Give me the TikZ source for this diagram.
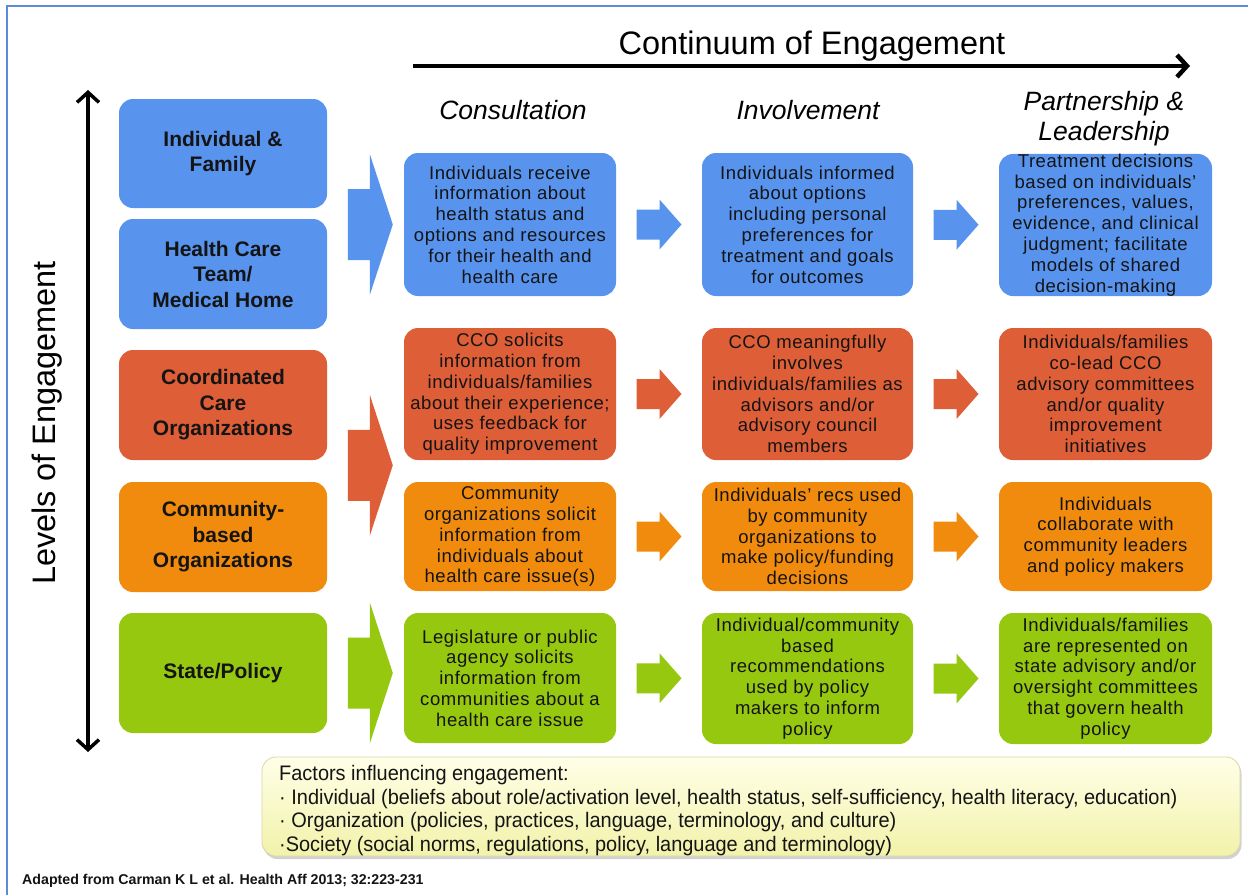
\documentclass[tikz,border=0pt]{standalone}
\usepackage{fontspec}
\setmainfont{Liberation Sans}
\newfontfamily\boxfont{Liberation Sans}[LetterSpace=3]
\newfontfamily\narrowfont{Liberation Sans}[FakeStretch=0.95]
\usetikzlibrary{arrows.meta,calc,shadows}

\definecolor{cblue}{RGB}{88,148,238}
\definecolor{cred}{RGB}{221,94,55}
\definecolor{corange}{RGB}{241,139,13}
\definecolor{cgreen}{RGB}{150,200,16}
\definecolor{txt}{RGB}{20,20,20}
\definecolor{framecol}{RGB}{90,140,215}
\definecolor{factop}{RGB}{255,255,232}
\definecolor{facbot}{RGB}{242,242,170}
\definecolor{facedge}{RGB}{215,215,170}

% block arrow: colour, centre, half length, head length, shaft half height, head half height
\newcommand\bArrow[6]{%
  \fill[#1,shift={(#2)}] (-#3,-#5) -- (#3-#4,-#5) -- (#3-#4,-#6) -- (#3,0)
    -- (#3-#4,#6) -- (#3-#4,#5) -- (-#3,#5) -- cycle;}

\tikzset{axisTip/.tip={Straight Barb[length=10pt,width=22pt]}}

\begin{document}
\begin{tikzpicture}[x=1pt,y=-1pt,
  lvl/.style={rounded corners=14pt, minimum width=208pt, inner sep=0pt,
    align=center, text=txt, font=\bfseries\fontsize{21}{25.5}\selectfont},
  cell/.style={rounded corners=14pt, inner sep=0pt, align=center, text=txt,
    font=\boxfont\fontsize{18.5}{20.8}\selectfont},
  hdr/.style={inner sep=0pt, anchor=base, font=\itshape\fontsize{26.5}{30}\selectfont},
  ftxt/.style={inner sep=0pt, anchor=base west, text=txt,
    font=\narrowfont\fontsize{21}{23.5}\selectfont}
]
\useasboundingbox (0,0) rectangle (1248,895);
\fill[white] (0,0) rectangle (1248,895);

% outer frame
\draw[framecol, line width=2pt] (7,895) -- (7,6) -- (1248,6);

% horizontal axis
\node[inner sep=0pt, anchor=base, font=\fontsize{32.5}{36}\selectfont] (title) at (812,54) {Continuum of Engagement};
\coordinate (ha) at (413,66);
\coordinate (hb) at (1190,66);
\draw[line width=4.5pt, -{axisTip}] (ha) -- (hb);

% vertical axis
\coordinate (va) at (88,90);
\coordinate (vb) at (88,752);
\draw[line width=3.5pt, {axisTip}-{axisTip}] (va) -- (vb);
\node[rotate=90, inner sep=0pt, anchor=base, font=\fontsize{32.5}{36}\selectfont] (levels) at (55,423) {Levels of Engagement};

% column headings
\node[hdr] (h1) at (513,119) {Consultation};
\node[hdr] (h2) at (808,119) {Involvement};
\node[hdr] (h3a) at (1104,110) {Partnership \&};
\node[hdr] (h3b) at (1104,140) {Leadership};

% levels
\node[lvl, fill=cblue, minimum height=109pt] (l1) at (223,153.5) {Individual \&\\Family};
\node[lvl, fill=cblue, minimum height=110pt] (l2) at (223,274) {Health Care\\Team/\\Medical Home};
\node[lvl, fill=cred, minimum height=110pt] (l3) at (223,405) {Coordinated\\Care\\Organizations};
\node[lvl, fill=corange, minimum height=110pt] (l4) at (223,537) {Community-\\based\\Organizations};
\node[lvl, fill=cgreen, minimum height=120pt] (l5) at (223,673) {State/Policy};

% consultation
\node[cell, fill=cblue, minimum width=212pt, minimum height=143pt] (c1) at (510,224.5)
  {Individuals receive\\information about\\health status and\\options and resources\\for their health and\\health care};
\node[cell, fill=cred, minimum width=212pt, minimum height=132pt] (c2) at (510,394)
  {CCO solicits\\information from\\individuals/families\\about their experience;\\uses feedback for\\quality improvement};
\node[cell, fill=corange, minimum width=212pt, minimum height=109pt] (c3) at (510,536.5)
  {Community\\organizations solicit\\information from\\individuals about\\health care issue(s)};
\node[cell, fill=cgreen, minimum width=212pt, minimum height=130pt] (c4) at (510,678)
  {Legislature or public\\agency solicits\\information from\\communities about a\\health care issue};

% involvement
\node[cell, fill=cblue, minimum width=211pt, minimum height=143pt] (v1) at (807.5,224.5)
  {Individuals informed\\about options\\including personal\\preferences for\\treatment and goals\\for outcomes};
\node[cell, fill=cred, minimum width=211pt, minimum height=132pt] (v2) at (807.5,394)
  {CCO meaningfully\\involves\\individuals/families as\\advisors and/or\\advisory council\\members};
\node[cell, fill=corange, minimum width=211pt, minimum height=109pt] (v3) at (807.5,536.5)
  {Individuals’ recs used\\by community\\organizations to\\make policy/funding\\decisions};
\node[cell, fill=cgreen, minimum width=211pt, minimum height=131pt] (v4) at (807.5,678.5)
  {Individual/community\\based\\recommendations\\used by policy\\makers to inform\\policy};

% partnership and leadership
\node[cell, fill=cblue, minimum width=213pt, minimum height=142pt] (p1) at (1105.5,225)
  {Treatment decisions\\based on individuals’\\preferences, values,\\evidence, and clinical\\judgment; facilitate\\models of shared\\decision-making};
\node[cell, fill=cred, minimum width=213pt, minimum height=132pt] (p2) at (1105.5,394)
  {Individuals/families\\co-lead CCO\\advisory committees\\and/or quality\\improvement\\initiatives};
\node[cell, fill=corange, minimum width=213pt, minimum height=109pt] (p3) at (1105.5,536.5)
  {Individuals\\collaborate with\\community leaders\\and policy makers};
\node[cell, fill=cgreen, minimum width=213pt, minimum height=131pt] (p4) at (1105.5,678.5)
  {Individuals/families\\are represented on\\state advisory and/or\\oversight committees\\that govern health\\policy};

% large arrows from the levels into the first column
\coordinate (b1) at ($(c1.west)+(-33.5,0)$);
\coordinate (b2) at ($(c2.west)!0.5!(c3.west)+(-33.5,0)$);
\coordinate (b3) at ($(c4.west)+(-33.5,-5)$);
\bArrow{cblue}{b1}{22.5}{23}{35.5}{70.5}
\bArrow{cred}{b2}{22.5}{23}{35.5}{70.5}
\bArrow{cgreen}{b3}{22.5}{23}{35.5}{70.5}

% small arrows between the columns
\foreach \a/\b/\col in {c1/v1/cblue, c2/v2/cred, c3/v3/corange, c4/v4/cgreen,
                        v1/p1/cblue, v2/p2/cred, v3/p3/corange, v4/p4/cgreen}{
  \coordinate (m) at ($(\a.east)!0.5!(\b.west)$);
  \bArrow{\col}{m}{22.5}{22}{15}{25}
}

% factors panel
\node[rounded corners=14pt, draw=facedge, line width=0.8pt, top color=factop, bottom color=facbot,
  drop shadow={opacity=0.35, shadow xshift=1.5pt, shadow yshift=-3pt},
  minimum width=978pt, minimum height=99pt, inner sep=0pt] (fbox) at (751,806.5) {};
\node[ftxt] (f1) at (279,780) {Factors influencing engagement:};
\node[ftxt] (f2) at (279,804) {· Individual (beliefs about role/activation level, health status, self-sufficiency, health literacy, education)};
\node[ftxt] (f3) at (279,827) {· Organization (policies, practices, language, terminology, and culture)};
\node[ftxt] (f4) at (279,851) {·Society (social norms, regulations, policy, language and terminology)};

% source line
\node[inner sep=0pt, anchor=base west, text=txt, font=\bfseries\fontsize{14.2}{16}\selectfont] (src) at (22,884)
  {Adapted from Carman K L et al. Health Aff 2013; 32:223-231};
\end{tikzpicture}
\end{document}
